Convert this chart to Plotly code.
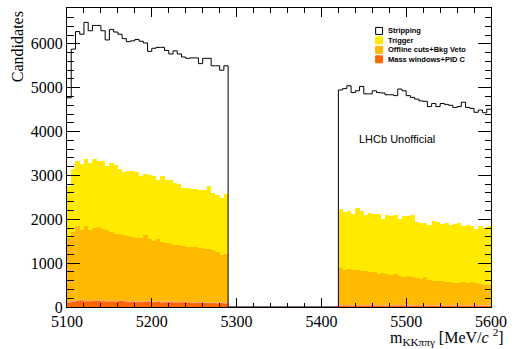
import numpy as np
import plotly.graph_objects as go

# ---- data (bin width 5 MeV, 5100-5600) ----
bin_lo, bin_w, n_bins = 5100, 5, 100
n_gap = 26  # empty bins 5290-5420

strip_left = [4770, 5880, 6280, 6220, 6490, 6300, 6420, 6420, 6300, 6090,
              6330, 6270, 6220, 6120, 6050, 6070, 6100, 6060, 6020, 5830,
              5900, 5920, 5920, 5850, 5770, 5840, 5770, 5700, 5670, 5680,
              5680, 5550, 5670, 5670, 5500, 5500, 5400, 5500]
strip_right = [4950, 4980, 5045, 4890, 4930, 5030, 4860, 4860, 4930, 4890,
               4880, 4840, 4840, 4820, 4970, 4930, 4820, 4780, 4740, 4700,
               4690, 4570, 4640, 4570, 4640, 4620, 4600, 4550, 4570, 4670,
               4550, 4530, 4440, 4490, 4430, 4510]

trig_left = [2750, 3136, 3340, 3265, 3364, 3280, 3370, 3340, 3340, 3205,
             3280, 3227, 3150, 3075, 3110, 3100, 3075, 2985, 3035, 3000,
             2980, 2900, 2980, 2890, 2890, 2825, 2810, 2720, 2720, 2700,
             2690, 2660, 2670, 2770, 2600, 2560, 2485, 2570]
trig_right = [2227, 2165, 2190, 2130, 2257, 2180, 2090, 2150, 2110, 2110,
              2015, 2100, 2075, 2090, 2015, 2075, 2075, 2090, 1940, 1925,
              1925, 1865, 1960, 1940, 1900, 1915, 1865, 1900, 1925, 1840,
              1865, 1840, 1790, 1840, 1810, 1840]

off_left = [1580, 1710, 1840, 1750, 1855, 1760, 1810, 1825, 1790, 1750,
            1715, 1675, 1660, 1635, 1615, 1600, 1580, 1580, 1635, 1560,
            1510, 1540, 1485, 1460, 1445, 1425, 1410, 1385, 1370, 1370,
            1360, 1335, 1320, 1320, 1295, 1260, 1180, 1200]
off_right = [900, 840, 860, 840, 855, 825, 820, 800, 790, 750,
             780, 750, 727, 750, 715, 690, 700, 685, 650, 640,
             685, 615, 600, 600, 595, 575, 575, 540, 555, 560,
             555, 570, 540, 525, 500, 500]

mass_left = [110, 130, 150, 160, 140, 140, 150, 150, 140, 130,
             140, 130, 150, 140, 120, 130, 120, 120, 130, 130,
             120, 130, 110, 120, 120, 110, 110, 120, 110, 100,
             100, 110, 100, 100, 100, 90, 100, 90]
mass_right = [40, 45, 40, 40, 45, 40, 40, 45, 40, 40,
              40, 35, 40, 40, 45, 40, 40, 35, 40, 40,
              35, 40, 35, 35, 40, 35, 40, 35, 35, 40,
              35, 35, 40, 35, 35, 35]

labels = ["Stripping", "Trigger", "Offline cuts+Bkg Veto", "Mass windows+PID C"]
y_ticks = [0, 1000, 2000, 3000, 4000, 5000, 6000]
x_ticks = [5100, 5200, 5300, 5400, 5500, 5600]

# ---- styling ----
C_TRIG, C_OFF, C_MASS = "#ffea00", "#ffba00", "#ff6400"
PL, PR, PT, PB = 67, 497, 7, 307
W, H = 514, 349
YMAX = 6818

def full(left, right):
    return np.array(list(left) + [0] * n_gap + list(right), dtype=float)

edges = bin_lo + bin_w * np.arange(n_bins + 1)
centers = edges[:-1] + bin_w / 2

strip = full(strip_left, strip_right)
trig = full(trig_left, trig_right)
off = full(off_left, off_right)
mass = full(mass_left, mass_right)

fig = go.Figure()
for vals, col in [(trig, C_TRIG), (off, C_OFF), (mass, C_MASS)]:
    fig.add_trace(go.Bar(x=centers, y=vals, width=bin_w, marker=dict(color=col, line=dict(width=0)),
                         showlegend=False, hoverinfo="skip"))
fig.add_trace(go.Scatter(x=edges, y=np.append(mass, mass[-1]), mode="lines",
                         line=dict(shape="hv", color="#ffb48c", width=1), showlegend=False))
fig.add_trace(go.Scatter(x=edges, y=np.append(strip, strip[-1]), mode="lines",
                         line=dict(shape="hv", color="black", width=1), showlegend=False))

def px(x):
    return (x - PL) / (PR - PL)

def py(y):
    return (PB - y) / (PB - PT)

shapes = []
annotations = []
leg_y = [30, 39.5, 49, 58.5]
leg_fill = ["white", C_TRIG, C_OFF, C_MASS]
for lab, yy, fc in zip(labels, leg_y, leg_fill):
    shapes.append(dict(type="rect", xref="paper", yref="paper",
                       x0=px(380), x1=px(387), y0=py(yy + 3.5), y1=py(yy - 3.5),
                       fillcolor=fc, line=dict(color="black" if fc == "white" else fc, width=1)))
    annotations.append(dict(xref="paper", yref="paper", x=px(391), y=py(yy), xanchor="left",
                            yanchor="middle", text="<b>" + lab + "</b>", showarrow=False,
                            font=dict(family="Liberation Sans", size=7.5, color="black")))

annotations.append(dict(xref="paper", yref="paper", x=px(361), y=py(138), xanchor="left",
                        yanchor="middle", text="LHCb Unofficial", showarrow=False,
                        font=dict(family="Liberation Sans", size=11, color="black")))
annotations.append(dict(xref="paper", yref="paper", x=px(17), y=py(8), xanchor="center",
                        yanchor="top", text="Candidates", textangle=-90, showarrow=False,
                        font=dict(family="Liberation Serif", size=16, color="black")))
annotations.append(dict(xref="paper", yref="paper", x=px(512), y=py(337), xanchor="right",
                        yanchor="middle", text="m<sub>KKππγ</sub> [MeV/<i>c</i> <sup>2</sup>]",
                        showarrow=False,
                        font=dict(family="Liberation Serif", size=16, color="black")))

axis_common = dict(showline=True, linecolor="black", linewidth=1, mirror="allticks",
                   ticks="inside", tickcolor="black", showgrid=False, zeroline=False,
                   tickfont=dict(family="Liberation Serif", size=16, color="black"))

fig.update_layout(
    width=W, height=H, margin=dict(l=PL, r=W - PR, t=PT, b=H - PB),
    paper_bgcolor="white", plot_bgcolor="white",
    barmode="overlay", bargap=0, showlegend=False,
    shapes=shapes, annotations=annotations,
    xaxis=dict(range=[5100, 5600], tickvals=x_ticks, ticklen=9,
               minor=dict(dtick=20, tick0=5100, ticklen=4.5, ticks="inside", tickcolor="black"),
               **axis_common),
    yaxis=dict(range=[0, YMAX], tickvals=y_ticks, ticklen=13,
               minor=dict(dtick=200, tick0=0, ticklen=6.5, ticks="inside", tickcolor="black"),
               **axis_common),
)

fig.write_html("out.html")
